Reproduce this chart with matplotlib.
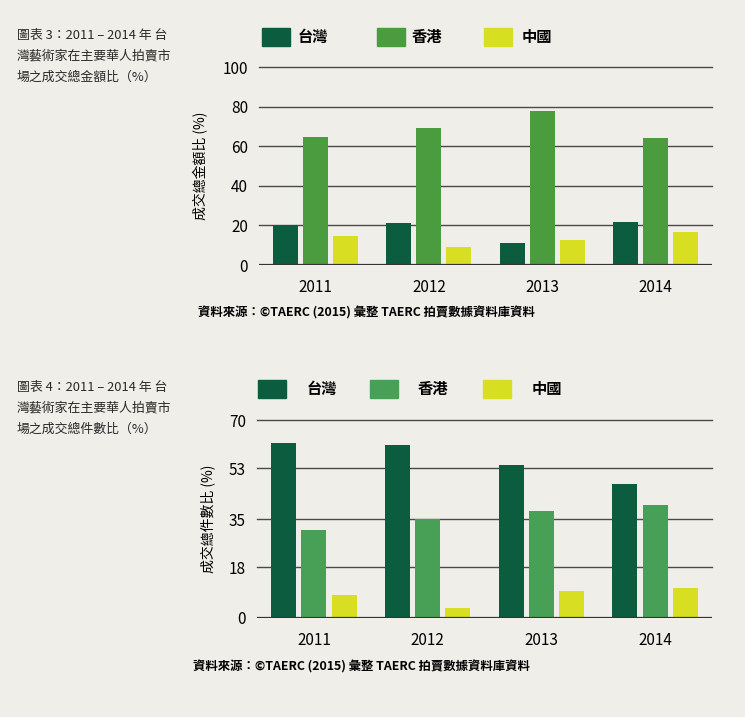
import matplotlib.pyplot as plt
import numpy as np
from matplotlib.patches import Rectangle

plt.rcParams['font.family'] = ['Noto Sans CJK TC', 'DejaVu Sans']

years = ['2011', '2012', '2013', '2014']
series = ['台灣', '香港', '中國']

# chart 3: share of total turnover (%)
value_tw = [20, 21, 11.3, 21.6]
value_hk = [64.6, 69, 77.6, 63.9]
value_cn = [14.8, 9.1, 12.5, 16.7]

# chart 4: share of lots sold (%)
count_tw = [62, 61, 54, 47.5]
count_hk = [31, 35, 38, 40]
count_cn = [8, 3.5, 9.6, 10.5]

bg = '#efeee9'
c_tw = '#0c5c40'
c_hk1 = '#4b9b3f'
c_hk2 = '#48a056'
c_cn = '#d8df22'
grid_c = '#4a4a4a'

fig = plt.figure(figsize=(7.45, 7.17), dpi=100, facecolor=bg)


def draw_chart(rect, data, colors, ticks, ylabel):
    ax = fig.add_axes(rect)
    ax.set_facecolor(bg)
    x = np.arange(len(years))
    w = 0.22
    step = 0.265
    for i, (vals, col) in enumerate(zip(data, colors)):
        ax.bar(x + (i - 1) * step, vals, width=w, color=col, zorder=3)
    ax.set_xlim(-0.5, 3.5)
    ax.set_ylim(0, ticks[-1])
    ax.set_yticks(ticks)
    ax.set_yticklabels([str(t) for t in ticks], fontsize=11)
    ax.set_xticks(x)
    ax.set_xticklabels(years, fontsize=11)
    ax.tick_params(length=0, pad=8)
    ax.tick_params(axis='x', pad=10)
    for t in ticks[1:]:
        ax.axhline(t, color=grid_c, lw=1.0, zorder=1, clip_on=False)
    ax.axhline(0, color='#333333', lw=1.6, zorder=4)
    for s in ax.spines.values():
        s.set_visible(False)
    ax.set_ylabel(ylabel, fontsize=10, fontweight='medium', labelpad=10)
    return ax


def draw_legend(y, xs, colors):
    for (px, tx), col, name in zip(xs, colors, series):
        fig.patches.append(Rectangle((px / 745, 1 - (y + 9) / 717), 28 / 745, 18 / 717,
                                     transform=fig.transFigure, color=col))
        fig.text(tx / 745, 1 - y / 717, name, fontsize=11, fontweight='bold',
                 va='center', ha='left')


# chart 3
draw_chart([259 / 745, 1 - 265 / 717, 453 / 745, 198 / 717],
           [value_tw, value_hk, value_cn], [c_tw, c_hk1, c_cn],
           [0, 20, 40, 60, 80, 100], '成交總金額比 (%)')
draw_legend(37, [(262, 298), (377, 412), (484, 522)], [c_tw, c_hk1, c_cn])
for i, line in enumerate(['圖表 3：2011 – 2014 年 台', '灣藝術家在主要華人拍賣市', '場之成交總金額比（%）']):
    fig.text(17 / 745, 1 - (35 + i * 21) / 717, line, fontsize=9.3, va='center', color='#2a2a2a')
fig.text(198 / 745, 1 - 313 / 717, '資料來源：©TAERC (2015) 彙整 TAERC 拍賣數據資料庫資料',
         fontsize=8.9, fontweight='bold', va='center')

# chart 4
draw_chart([257 / 745, 1 - 618 / 717, 455 / 745, 198 / 717],
           [count_tw, count_hk, count_cn], [c_tw, c_hk2, c_cn],
           [0, 18, 35, 53, 70], '成交總件數比 (%)')
draw_legend(389, [(258, 307), (370, 418), (483, 532)], [c_tw, c_hk2, c_cn])
for i, line in enumerate(['圖表 4：2011 – 2014 年 台', '灣藝術家在主要華人拍賣市', '場之成交總件數比（%）']):
    fig.text(17 / 745, 1 - (387 + i * 21) / 717, line, fontsize=9.3, va='center', color='#2a2a2a')
fig.text(193 / 745, 1 - 667 / 717, '資料來源：©TAERC (2015) 彙整 TAERC 拍賣數據資料庫資料',
         fontsize=8.9, fontweight='bold', va='center')

fig.savefig('out.png', dpi=100, facecolor=bg)
